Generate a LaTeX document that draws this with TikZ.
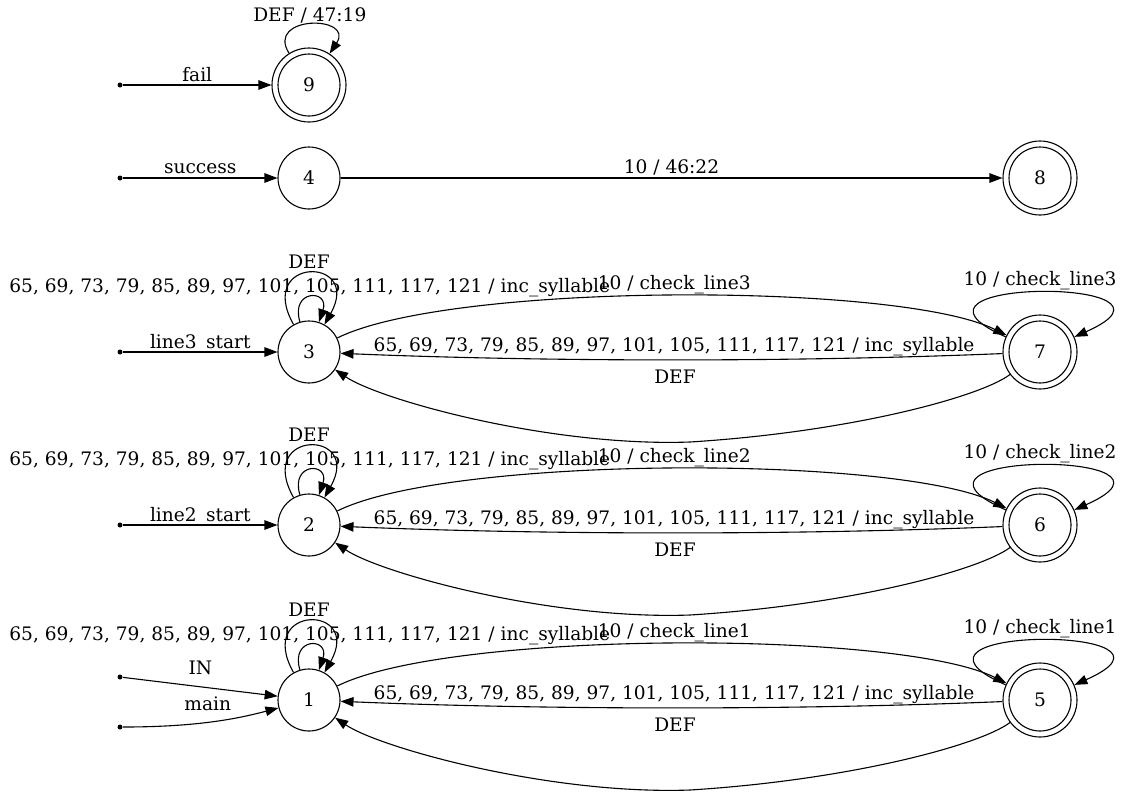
\documentclass[tikz,border=0pt]{standalone}
\usepackage{fontspec}
\setmainfont{DejaVu Serif}
\usetikzlibrary{arrows.meta}
\tikzset{
  state/.style={circle, draw, minimum size=62pt, inner sep=0pt},
  final/.style={circle, draw, minimum size=74pt, inner sep=0pt,
    path picture={\draw (path picture bounding box.center) circle (31pt);}},
  entry/.style={circle, fill, minimum size=5pt, inner sep=0pt},
  lbl/.style={anchor=base, inner sep=0pt},
  arr/.style={-{Triangle[length=13pt,width=9.5pt]}},
}
\begin{document}
\begin{tikzpicture}[x=1pt, y=-1pt, line width=1.1pt,
    font=\fontsize{18.6pt}{22pt}\selectfont]
  \useasboundingbox (0,0) rectangle (1123,798);
  % states
  \node[final] (n9) at (309,85) {9};
  \node[state] (n4) at (309,178) {4};
  \node[final] (n8) at (1040,178) {8};
  \foreach \a/\b/\y in {3/7/352, 2/6/525, 1/5/700}{
    \node[state] (n\a) at (309,\y) {\a};
    \node[final] (n\b) at (1040,\y) {\b};
  }
  % entry points
  \node[entry] (sfail) at (120,85) {};
  \node[entry] (ssuccess) at (120,178) {};
  \node[entry] (sline3) at (120,352) {};
  \node[entry] (sline2) at (120,525) {};
  \node[entry] (sin) at (120,677) {};
  \node[entry] (smain) at (120,727) {};

  \draw[arr] (sfail) -- (n9) node[lbl, pos=.5, yshift=4pt] {fail};
  \draw[arr] (ssuccess) -- (n4) node[lbl, pos=.5, yshift=5pt] {success};
  \draw[arr] (sline3) -- (n3) node[lbl, pos=.5, yshift=4pt] {line3\_start};
  \draw[arr] (sline2) -- (n2) node[lbl, pos=.5, yshift=4pt] {line2\_start};
  \draw[arr] (sin) -- (n1) node[lbl, pos=.5, yshift=12.5pt] {IN};
  \draw[arr] (smain) .. controls (200,727) and (240,718) .. (n1)
    node[lbl, pos=.45, yshift=12pt] {main};

  % top rows
  \draw[arr] (n9) .. controls (265,15) and (355,15) .. (n9)
    node[lbl, pos=.5, yshift=3pt] {DEF / 47:19};
  \draw[arr] (n4) -- (n8) node[lbl, pos=.5, yshift=5pt] {10 / 46:22};

  % line rows
  \foreach \a/\b/\y in {3/7/352, 2/6/525, 1/5/700}{
    \draw[arr] (n\a) .. controls (255,\y-96) and (363,\y-96) .. (n\a)
      node[lbl, pos=.5, yshift=5pt] {DEF};
    \draw[arr] (n\a) .. controls (290,\y-63) and (330,\y-63) .. (n\a)
      node[lbl, pos=.5, yshift=5pt]
      {65, 69, 73, 79, 85, 89, 97, 101, 105, 111, 117, 121 / inc\_syllable};
    \draw[arr] (n\a) .. controls (450,\y-70) and (900,\y-70) .. (n\b)
      node[lbl, pos=.5, yshift=6pt] {10 / check\_line\a};
    \draw[arr] (n\b) .. controls (800,\y+10) and (550,\y+10) .. (n\a)
      node[lbl, pos=.5, yshift=8pt]
      {65, 69, 73, 79, 85, 89, 97, 101, 105, 111, 117, 121 / inc\_syllable};
    \draw[arr] (n\b) .. controls (980,\y+45) and (850,\y+80) .. (690,\y+90)
      node[lbl, xshift=-15pt, yshift=59pt] {DEF}
      .. controls (550,\y+95) and (380,\y+48) .. (n\a);
    \draw[arr] (n\b) .. controls (870,\y-75) and (1210,\y-75) .. (n\b)
      node[lbl, pos=.5, yshift=6pt] {10 / check\_line\a};
  }
\end{tikzpicture}
\end{document}
